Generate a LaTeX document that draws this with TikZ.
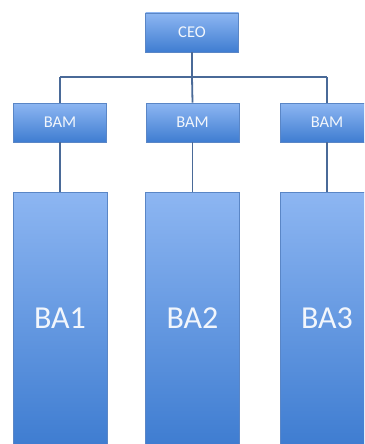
\documentclass[tikz,border=0pt]{standalone}
\usepackage{fontspec}
\setmainfont{Carlito}
\usetikzlibrary{shadows}
\definecolor{boxtop}{HTML}{8DB6F2}
\definecolor{boxbot}{HTML}{3F7DD1}
\definecolor{boxedge}{HTML}{5A86C6}
\definecolor{linkc}{HTML}{4A6A98}
\definecolor{labelc}{HTML}{F2F6FC}
\tikzset{
  unit/.style={draw=boxedge, line width=0.6pt, top color=boxtop, bottom color=boxbot,
    text=labelc, inner sep=0pt, font=\fontsize{16.5}{16.5}\selectfont,
    drop shadow={shadow xshift=0.8pt, shadow yshift=-1.2pt, opacity=0.18}},
  smallbox/.style={unit, minimum width=93pt, minimum height=39pt},
  tallbox/.style={unit, minimum width=94pt, minimum height=252pt, font=\fontsize{32}{32}\selectfont},
  link/.style={draw=linkc, line width=1.8pt}
}
\begin{document}
\begin{tikzpicture}[x=1pt, y=-1pt]
  \useasboundingbox (0,0) rectangle (364,444);
  \clip (0,0) rectangle (364,444);
  \fill[white] (0,0) rectangle (364,444);
  % bus joints
  \coordinate (bus) at (192,77);
  \coordinate (busL) at (60,77);
  \coordinate (busR) at (327,77);
  % boxes
  \node[smallbox] (ceo) at (192,32.5) {CEO};
  \node[smallbox] (bam1) at (60,122.5) {BAM};
  \node[smallbox] (bam2) at (192.5,122.5) {BAM};
  \node[smallbox] (bam3) at (327,122.5) {BAM};
  \node[tallbox] (ba1) at (60,318) {BA1};
  \node[tallbox] (ba2) at (192.5,318) {BA2};
  \node[tallbox] (ba3) at (327,318) {BA3};
  % connectors
  \draw[link] (ceo.south) -- (bus);
  \draw[link] (busL) -- (busR);
  \draw[link] (busL) -- (bam1.north);
  \draw[link] (bus) -- (bam2.north);
  \draw[link] (busR) -- (bam3.north);
  \draw[link] (bam1.south) -- (ba1.north);
  \draw[link] (bam2.south) -- (ba2.north);
  \draw[link] (bam3.south) -- (ba3.north);
\end{tikzpicture}
\end{document}
